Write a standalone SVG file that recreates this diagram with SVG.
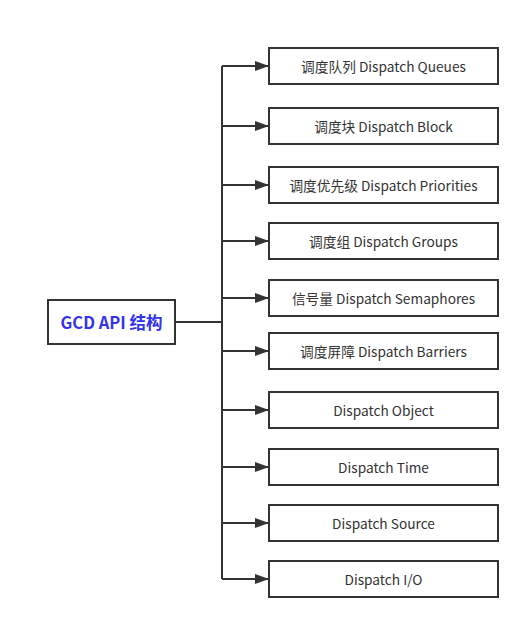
<svg xmlns="http://www.w3.org/2000/svg" width="530" height="629" viewBox="0 0 530 629">
<defs>
<marker id="arr" markerWidth="14" markerHeight="10" refX="13" refY="5" orient="auto" markerUnits="userSpaceOnUse">
<path d="M0,0 L14,5 L0,10 Z" fill="#333"/>
</marker>
<style>
.box{fill:#fff;stroke:#333;stroke-width:2}
.t{font-family:"Noto Sans CJK SC","Noto Sans",sans-serif;font-size:13.7px;fill:#333;text-anchor:middle;dominant-baseline:central}
.root{font-family:"Noto Sans CJK SC","Noto Sans",sans-serif;font-size:16.5px;font-weight:bold;fill:#3333ee;text-anchor:middle;dominant-baseline:central}
.c{fill:none;stroke:#333;stroke-width:2}
</style>
</defs>
<rect width="530" height="629" fill="#fff"/>
<g id="connectors">
<path class="c" d="M175,322 H222"/>
<path class="c" d="M222,66 V579"/>
<path class="c" d="M222,66 H268" marker-end="url(#arr)"/>
<path class="c" d="M222,126 H268" marker-end="url(#arr)"/>
<path class="c" d="M222,185 H268" marker-end="url(#arr)"/>
<path class="c" d="M222,241 H268" marker-end="url(#arr)"/>
<path class="c" d="M222,298 H268" marker-end="url(#arr)"/>
<path class="c" d="M222,351 H268" marker-end="url(#arr)"/>
<path class="c" d="M222,410 H268" marker-end="url(#arr)"/>
<path class="c" d="M222,467 H268" marker-end="url(#arr)"/>
<path class="c" d="M222,523 H268" marker-end="url(#arr)"/>
<path class="c" d="M222,579 H268" marker-end="url(#arr)"/>
</g>
<g id="root"><rect class="box" x="48" y="300" width="127" height="44"/><text class="root" x="111.5" y="322">GCD API 结构</text></g>
<g id="n1"><rect class="box" x="269" y="48" width="229" height="36"/><text class="t" x="383.5" y="66">调度队列 Dispatch Queues</text></g>
<g id="n2"><rect class="box" x="269" y="108" width="229" height="36"/><text class="t" x="383.5" y="126">调度块 Dispatch Block</text></g>
<g id="n3"><rect class="box" x="269" y="167" width="229" height="36"/><text class="t" x="383.5" y="185">调度优先级 Dispatch Priorities</text></g>
<g id="n4"><rect class="box" x="269" y="223" width="229" height="36"/><text class="t" x="383.5" y="241">调度组 Dispatch Groups</text></g>
<g id="n5"><rect class="box" x="269" y="280" width="229" height="36"/><text class="t" x="383.5" y="298">信号量 Dispatch Semaphores</text></g>
<g id="n6"><rect class="box" x="269" y="333" width="229" height="36"/><text class="t" x="383.5" y="351">调度屏障 Dispatch Barriers</text></g>
<g id="n7"><rect class="box" x="269" y="392" width="229" height="36"/><text class="t" x="383.5" y="410">Dispatch Object</text></g>
<g id="n8"><rect class="box" x="269" y="449" width="229" height="36"/><text class="t" x="383.5" y="467">Dispatch Time</text></g>
<g id="n9"><rect class="box" x="269" y="505" width="229" height="36"/><text class="t" x="383.5" y="523">Dispatch Source</text></g>
<g id="n10"><rect class="box" x="269" y="561" width="229" height="36"/><text class="t" x="383.5" y="579">Dispatch I/O</text></g>
</svg>
